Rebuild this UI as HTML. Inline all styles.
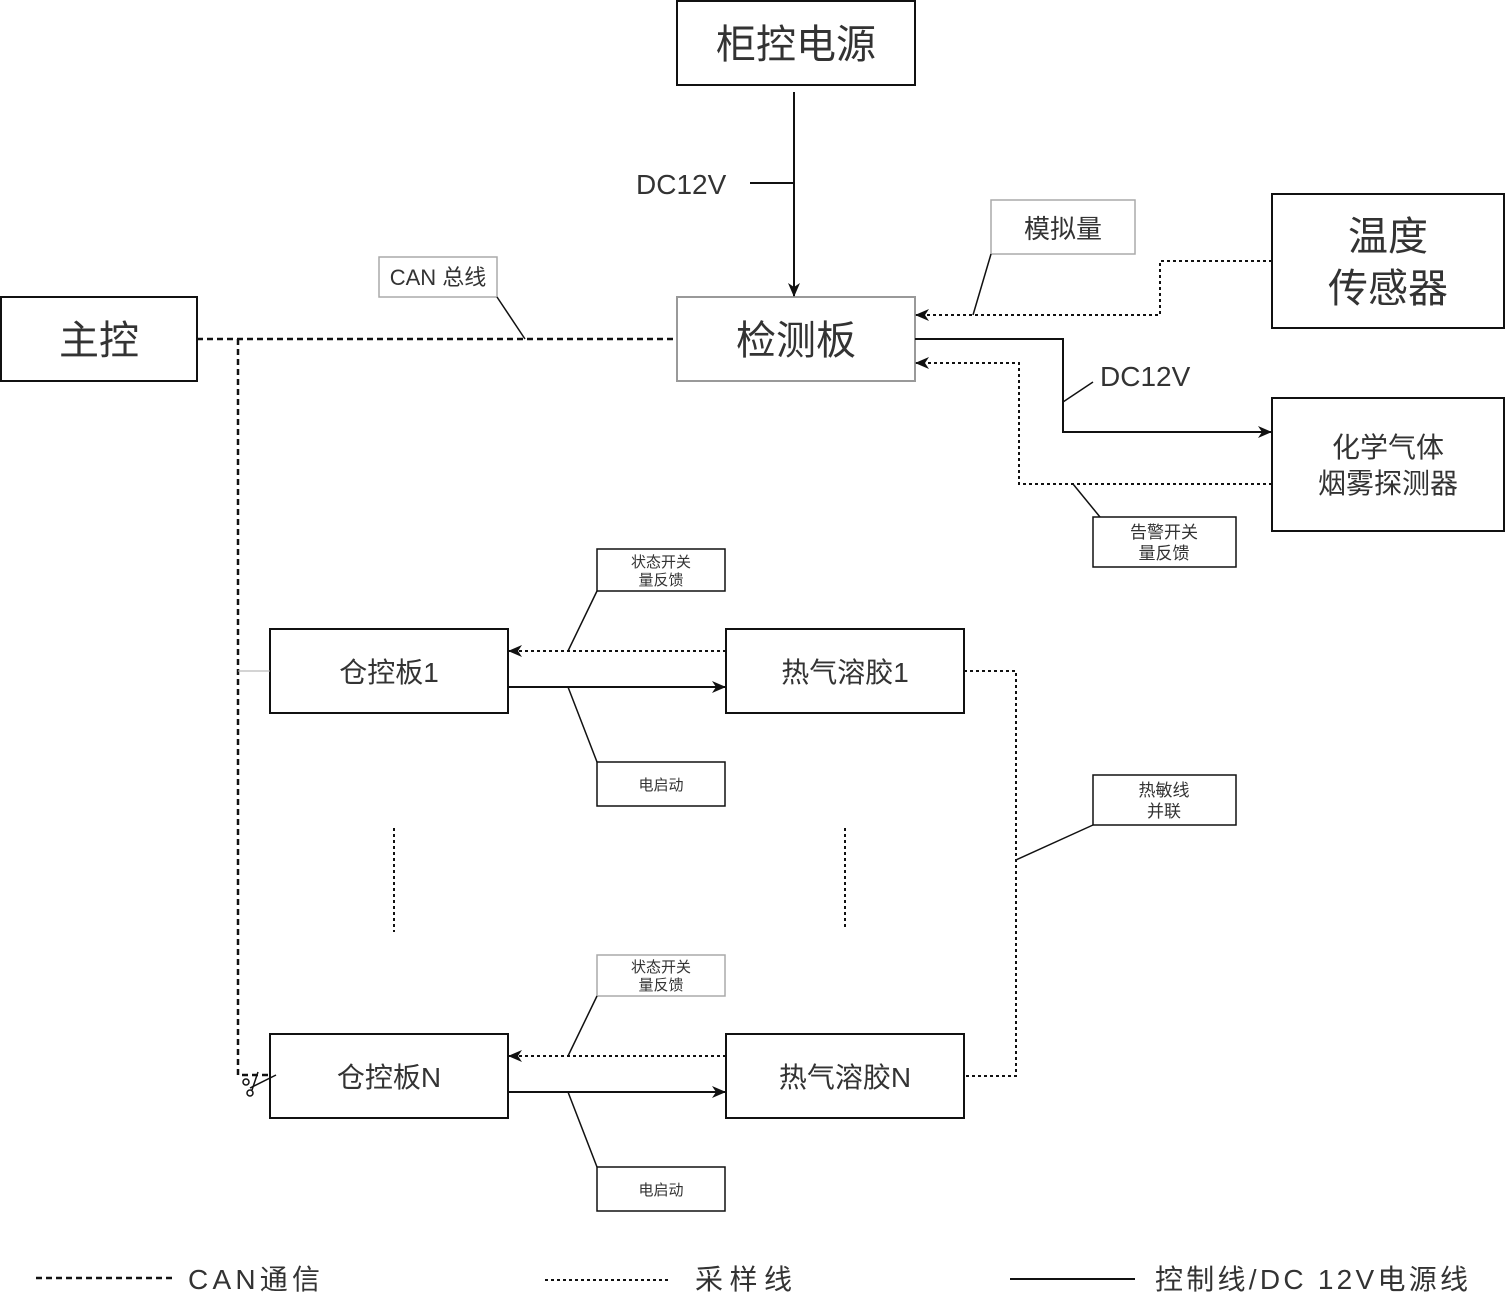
<!DOCTYPE html>
<html><head><meta charset="utf-8"><style>
html,body{margin:0;padding:0;background:#fff;}
svg{display:block;}
text{font-family:"Liberation Sans","Noto Sans CJK SC",sans-serif;fill:#333;}
</style></head><body>
<svg width="1506" height="1293" viewBox="0 0 1506 1293" xmlns="http://www.w3.org/2000/svg">
<defs>
<marker id="a" markerWidth="14" markerHeight="12" refX="13" refY="6" orient="auto" markerUnits="userSpaceOnUse">
<path d="M0,0 L14,6 L0,12 L4,6 z" fill="#111"/></marker>
</defs>
<g fill="#fff" stroke="#111" stroke-width="2">
<rect x="677" y="1" width="238" height="84"/>
<rect x="1" y="297" width="196" height="84"/>
<rect x="677" y="297" width="238" height="84" stroke="#999"/>
<rect x="1272" y="194" width="232" height="134"/>
<rect x="1272" y="398" width="232" height="133"/>
<rect x="270" y="629" width="238" height="84"/>
<rect x="726" y="629" width="238" height="84"/>
<rect x="270" y="1034" width="238" height="84"/>
<rect x="726" y="1034" width="238" height="84"/>
</g>
<g fill="#fff" stroke-width="1.5">
<rect x="991" y="200" width="144" height="54" stroke="#aaa"/>
<rect x="379" y="257" width="118" height="40" stroke="#aaa"/>
<rect x="1093" y="517" width="143" height="50" stroke="#111"/>
<rect x="597" y="549" width="128" height="42" stroke="#111"/>
<rect x="597" y="762" width="128" height="44" stroke="#111"/>
<rect x="1093" y="775" width="143" height="50" stroke="#111"/>
<rect x="597" y="955" width="128" height="41" stroke="#aaa"/>
<rect x="597" y="1167" width="128" height="44" stroke="#111"/>
</g>
<g fill="none" stroke="#111" stroke-width="2">
<line x1="794" y1="92" x2="794" y2="296" marker-end="url(#a)"/>
<line x1="750" y1="183" x2="794" y2="183"/>
<polyline points="915,339 1063,339 1063,432 1271,432" marker-end="url(#a)"/>
<line x1="1063" y1="402" x2="1093" y2="382" stroke-width="1.5"/>
<line x1="508" y1="687" x2="725" y2="687" marker-end="url(#a)"/>
<line x1="508" y1="1092" x2="725" y2="1092" marker-end="url(#a)"/>
<g stroke-width="1.5">
<line x1="497" y1="297" x2="525" y2="339"/>
<line x1="991" y1="254" x2="973" y2="315"/>
<line x1="1073" y1="484" x2="1100" y2="517"/>
<line x1="568" y1="651" x2="597" y2="591"/>
<line x1="568" y1="687" x2="597" y2="762"/>
<line x1="568" y1="1056" x2="597" y2="996"/>
<line x1="568" y1="1092" x2="597" y2="1167"/>
<line x1="1016" y1="860" x2="1093" y2="825"/>
</g>
<g stroke-dasharray="6,4" stroke-width="2.5">
<line x1="197" y1="339" x2="677" y2="339"/>
<polyline points="238,339 238,1075 270,1075"/>
<line x1="36" y1="1278" x2="172" y2="1278"/>
</g>
<line x1="238" y1="671" x2="270" y2="671" stroke="#aaa" stroke-width="1"/>
<g stroke-dasharray="3,3">
<polyline points="1272,261 1160,261 1160,315 916,315" marker-end="url(#a)"/>
<polyline points="1272,484 1019,484 1019,363 916,363" marker-end="url(#a)"/>
<line x1="726" y1="651" x2="509" y2="651" marker-end="url(#a)"/>
<line x1="726" y1="1056" x2="509" y2="1056" marker-end="url(#a)"/>
<polyline points="964,671 1016,671 1016,1076 964,1076"/>
<line x1="394" y1="828" x2="394" y2="932"/>
<line x1="845" y1="828" x2="845" y2="928"/>
<line x1="545" y1="1280" x2="670" y2="1280"/>
</g>
<line x1="1010" y1="1279" x2="1135" y2="1279"/>
<g stroke-width="1.5"><line x1="250" y1="1088" x2="276" y2="1075"/><line x1="258" y1="1072" x2="252" y2="1090"/>
<circle cx="246" cy="1082" r="3"/><circle cx="250" cy="1093" r="3"/></g>
</g>
<g text-anchor="middle">
<text x="796" y="58" font-size="40">柜控电源</text>
<text x="99" y="354" font-size="40">主控</text>
<text x="796" y="354" font-size="40">检测板</text>
<text x="1388" y="250" font-size="40">温度</text>
<text x="1388" y="302" font-size="40">传感器</text>
<text x="1388" y="457" font-size="28">化学气体</text>
<text x="1388" y="493" font-size="28">烟雾探测器</text>
<text x="389" y="682" font-size="28">仓控板1</text>
<text x="845" y="682" font-size="28">热气溶胶1</text>
<text x="389" y="1087" font-size="28">仓控板N</text>
<text x="845" y="1087" font-size="28">热气溶胶N</text>
<text x="1063" y="238" font-size="26">模拟量</text>
<text x="438" y="285" font-size="22">CAN 总线</text>
<text x="1164" y="538" font-size="17">告警开关</text>
<text x="1164" y="559" font-size="17">量反馈</text>
<text x="661" y="567" font-size="15">状态开关</text>
<text x="661" y="585" font-size="15">量反馈</text>
<text x="661" y="790" font-size="15">电启动</text>
<text x="1164" y="796" font-size="17">热敏线</text>
<text x="1164" y="817" font-size="17">并联</text>
<text x="661" y="972" font-size="15">状态开关</text>
<text x="661" y="990" font-size="15">量反馈</text>
<text x="661" y="1195" font-size="15">电启动</text>
</g>
<text x="636" y="194" font-size="28">DC12V</text>
<text x="1100" y="386" font-size="28">DC12V</text>
<text x="188" y="1289" font-size="28" textLength="132">CAN通信</text>
<text x="695" y="1289" font-size="28" textLength="97">采样线</text>
<text x="1155" y="1289" font-size="28" textLength="313">控制线/DC 12V电源线</text>
</svg>
</body></html>
